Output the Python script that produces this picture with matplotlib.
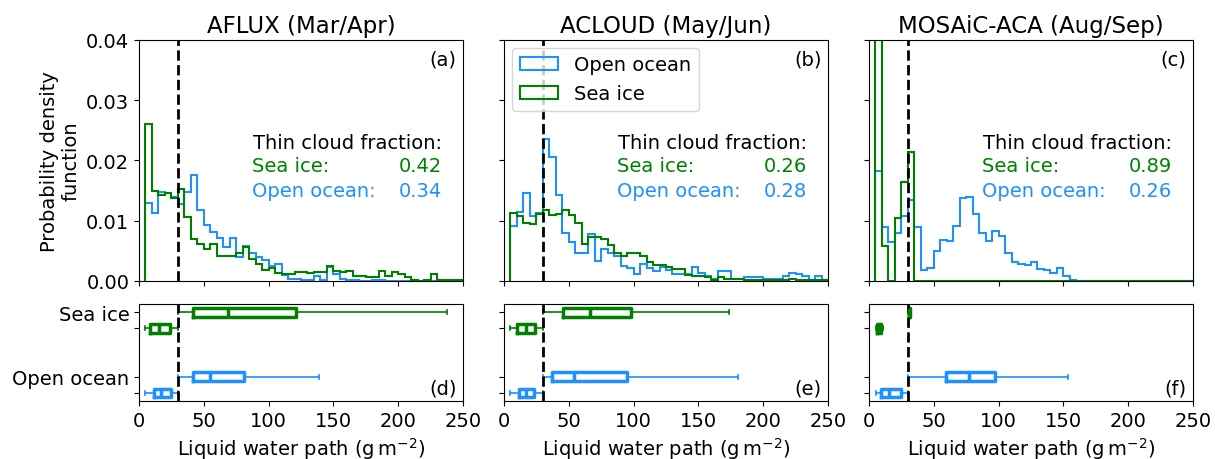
import numpy as np
import matplotlib
matplotlib.use("Agg")
import matplotlib.pyplot as plt
from matplotlib.patches import Patch

# ---------------- data ----------------
titles = ["AFLUX (Mar/Apr)", "ACLOUD (May/Jun)", "MOSAiC-ACA (Aug/Sep)"]
hist_tags = ["(a)", "(b)", "(c)"]
box_tags = ["(d)", "(e)", "(f)"]
threshold = 30  # g m-2, thin cloud threshold
bin_edges = np.arange(5, 255, 5)  # 5 ... 250

# probability density per bin (bins start at 5, width 5)
aflux_sea = [0.0261, 0.0150, 0.0143, 0.0146, 0.0137, 0.0153, 0.0107, 0.0069, 0.0061, 0.0053,
             0.0062, 0.0042, 0.0042, 0.0042, 0.0047, 0.0057, 0.0036, 0.0028, 0.0019, 0.0022,
             0.0014, 0.0011, 0.0011, 0.0015, 0.0015, 0.0013, 0.0015, 0.0015, 0.0025, 0.0016,
             0.0015, 0.0016, 0.0009, 0.0009, 0.0006, 0.0007, 0.0017, 0.0008, 0.0015, 0.0011,
             0.0006, 0.0001, 0.0000, 0.0001, 0.0011, 0.0002, 0.0002, 0.0001, 0.0001]
aflux_ocean = [0.0130, 0.0113, 0.0147, 0.0146, 0.0140, 0.0128, 0.0147, 0.0176, 0.0117, 0.0093,
               0.0081, 0.0072, 0.0056, 0.0072, 0.0039, 0.0058, 0.0047, 0.0040, 0.0035, 0.0025,
               0.0028, 0.0010, 0.0004, 0.0003, 0.0001, 0.0001, 0.0009, 0.0001, 0.0024, 0.0011,
               0.0003, 0.0001, 0.0001, 0.0000, 0.0000, 0.0001, 0.0001, 0.0000, 0.0000, 0.0000,
               0.0000, 0.0000, 0.0000, 0.0000, 0.0000, 0.0000, 0.0000, 0.0000, 0.0000]
acloud_sea = [0.0112, 0.0108, 0.0096, 0.0094, 0.0111, 0.0117, 0.0109, 0.0111, 0.0117, 0.0109,
              0.0097, 0.0061, 0.0073, 0.0073, 0.0069, 0.0059, 0.0046, 0.0041, 0.0046, 0.0047,
              0.0042, 0.0031, 0.0026, 0.0026, 0.0024, 0.0020, 0.0020, 0.0010, 0.0009, 0.0009,
              0.0006, 0.0002, 0.0006, 0.0004, 0.0003, 0.0003, 0.0002, 0.0002, 0.0002, 0.0001,
              0.0001, 0.0001, 0.0001, 0.0004, 0.0002, 0.0001, 0.0001, 0.0001, 0.0001]
acloud_ocean = [0.0091, 0.0114, 0.0146, 0.0108, 0.0112, 0.0235, 0.0206, 0.0142, 0.0079, 0.0065,
                0.0047, 0.0046, 0.0078, 0.0033, 0.0053, 0.0046, 0.0042, 0.0025, 0.0021, 0.0012,
                0.0028, 0.0021, 0.0016, 0.0023, 0.0019, 0.0011, 0.0011, 0.0011, 0.0024, 0.0014,
                0.0008, 0.0003, 0.0016, 0.0016, 0.0003, 0.0003, 0.0006, 0.0006, 0.0006, 0.0004,
                0.0004, 0.0004, 0.0008, 0.0014, 0.0012, 0.0008, 0.0002, 0.0008, 0.0002]
mosaic_sea = [0.1450, 0.0058, 0.0000, 0.0105, 0.0165, 0.0214] + [0.0] * 43
mosaic_ocean = [0.0182, 0.0089, 0.0064, 0.0079, 0.0108, 0.0135, 0.0090, 0.0018, 0.0021, 0.0050,
                0.0068, 0.0066, 0.0092, 0.0137, 0.0139, 0.0111, 0.0079, 0.0067, 0.0083, 0.0075,
                0.0046, 0.0032, 0.0029, 0.0026, 0.0031, 0.0020, 0.0019, 0.0014, 0.0022, 0.0009,
                0.0001] + [0.0] * 18

thin_frac_sea = [0.42, 0.26, 0.89]
thin_frac_ocean = [0.34, 0.28, 0.26]

# box statistics: (whislo, q1, median, q3, whishi)
box_sea_thick = [(30, 42, 69, 121, 238), (30, 45.6, 66.2, 97.7, 173.8), (30, 30.5, 31, 32, 32.5)]
box_sea_thin = [(5, 8.7, 15.4, 23.6, 30), (5, 10.3, 16.9, 23.8, 30), (5.5, 6.2, 7.5, 9.3, 10.5)]
box_ocean_thick = [(30, 41.6, 54.4, 81, 139), (30, 37.4, 54.1, 95.1, 180.3), (30, 59.4, 77.3, 97.2, 153.8)]
box_ocean_thin = [(5, 11.6, 16.7, 24.9, 30), (5, 11.8, 16.9, 23.1, 30), (5.4, 9.2, 15.5, 24.5, 30)]
box_positions = [0, 1, 4, 5]  # ocean thin, ocean thick, sea thin, sea thick
box_ylabels = ["", "Open ocean", "", "Sea ice"]

sea_hists = [aflux_sea, acloud_sea, mosaic_sea]
ocean_hists = [aflux_ocean, acloud_ocean, mosaic_ocean]

# ---------------- style ----------------
c_ocean = "dodgerblue"
c_sea = "green"
fs = 14

fig = plt.figure(figsize=(12.15, 4.6), dpi=100)
lefts = [0.1144, 0.4148, 0.7152]
w = 0.2667


def stats(t):
    return dict(whislo=t[0], q1=t[1], med=t[2], q3=t[3], whishi=t[4], fliers=[])


for i in range(3):
    ax = fig.add_axes([lefts[i], 0.387, w, 0.524])
    ax.stairs(ocean_hists[i], bin_edges, color=c_ocean, lw=1.5, baseline=0)
    ax.stairs(sea_hists[i], bin_edges, color=c_sea, lw=1.5, baseline=0)
    ax.axvline(threshold, color="k", ls="--", lw=2)
    ax.set_xlim(0, 250)
    ax.set_ylim(0, 0.04)
    ax.set_xticks(np.arange(0, 251, 50))
    ax.set_xticklabels([])
    ax.set_yticks([0, 0.01, 0.02, 0.03, 0.04])
    if i == 0:
        ax.set_yticklabels(["0.00", "0.01", "0.02", "0.03", "0.04"], fontsize=fs)
        ax.set_ylabel("Probability density\nfunction", fontsize=fs)
    else:
        ax.set_yticklabels([])
    ax.set_title(titles[i], fontsize=16.5)
    ax.text(0.98, 0.96, hist_tags[i], transform=ax.transAxes, ha="right", va="top", fontsize=fs)
    ax.text(0.935, 0.576, "Thin cloud fraction:", transform=ax.transAxes, ha="right", va="center",
            fontsize=fs, color="k")
    ax.text(0.35, 0.478, "Sea ice:", transform=ax.transAxes, ha="left", va="center",
            fontsize=fs, color=c_sea)
    ax.text(0.935, 0.478, f"{thin_frac_sea[i]:.2f}", transform=ax.transAxes, ha="right", va="center",
            fontsize=fs, color=c_sea)
    ax.text(0.35, 0.375, "Open ocean:", transform=ax.transAxes, ha="left", va="center",
            fontsize=fs, color=c_ocean)
    ax.text(0.935, 0.375, f"{thin_frac_ocean[i]:.2f}", transform=ax.transAxes, ha="right", va="center",
            fontsize=fs, color=c_ocean)
    if i == 1:
        handles = [Patch(facecolor="none", edgecolor=c_ocean, lw=1.5, label="Open ocean"),
                   Patch(facecolor="none", edgecolor=c_sea, lw=1.5, label="Sea ice")]
        ax.legend(handles=handles, loc="upper left", fontsize=fs, framealpha=0.8,
                  borderaxespad=0.4)

    # box panel
    bx = fig.add_axes([lefts[i], 0.126, w, 0.211])
    groups = [(box_ocean_thin[i], c_ocean), (box_ocean_thick[i], c_ocean),
              (box_sea_thin[i], c_sea), (box_sea_thick[i], c_sea)]
    for pos, (st, col) in zip(box_positions, groups):
        bx.bxp([stats(st)], positions=[pos], vert=False, widths=0.55, showfliers=False,
               boxprops=dict(color=col, lw=2.5),
               medianprops=dict(color=col, lw=2.5),
               whiskerprops=dict(color=col, lw=1.2),
               capprops=dict(color=col, lw=1.2))
    bx.axvline(threshold, color="k", ls="--", lw=2)
    bx.set_xlim(0, 250)
    bx.set_ylim(-0.5, 5.5)
    bx.set_xticks(np.arange(0, 251, 50))
    bx.set_xticklabels([str(v) for v in range(0, 251, 50)], fontsize=fs)
    bx.set_yticks(box_positions)
    if i == 0:
        bx.set_yticklabels(box_ylabels, fontsize=fs)
    else:
        bx.set_yticklabels([])
    bx.set_xlabel(r"Liquid water path ($\mathrm{g\,m^{-2}}$)", fontsize=fs)
    bx.text(0.98, 0.04, box_tags[i], transform=bx.transAxes, ha="right", va="bottom", fontsize=fs)

fig.savefig("out.png", dpi=100)
